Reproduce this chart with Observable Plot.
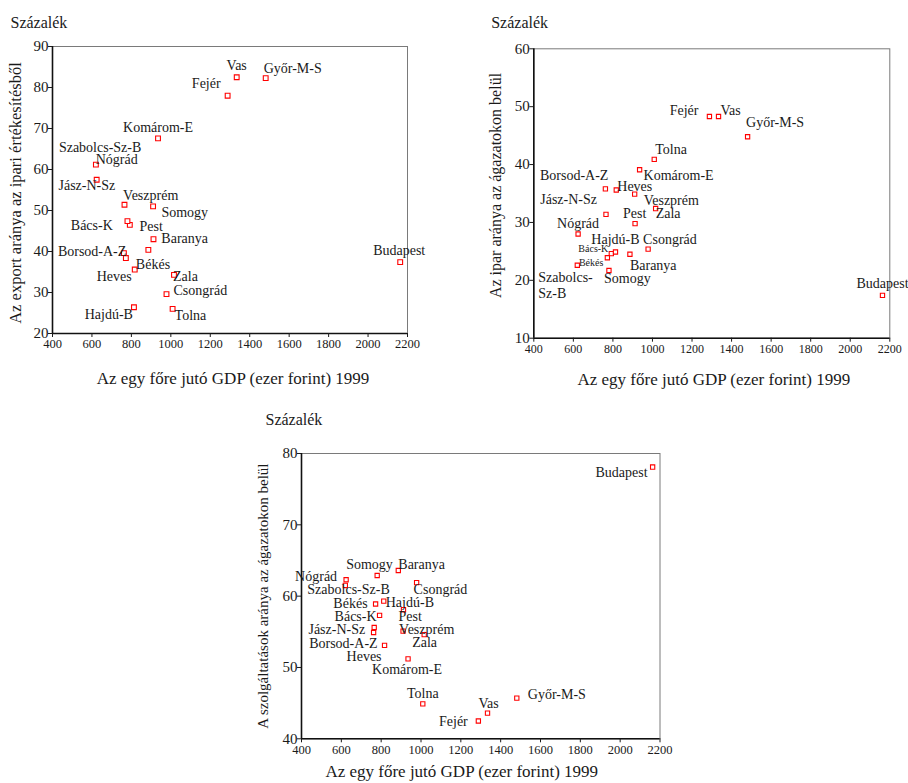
<!DOCTYPE html>
<html><head><meta charset="utf-8">
<script src="https://cdn.jsdelivr.net/npm/d3@7"></script>
<script src="https://cdn.jsdelivr.net/npm/@observablehq/plot@0.6"></script>
<style>
body{margin:0;background:#fff;}
#wrap{position:relative;width:908px;height:783px;overflow:hidden;font-family:"Liberation Serif",serif;}
#wrap svg, #wrap svg text{font-family:"Liberation Serif","Times New Roman",serif !important;font-weight:normal;}
.p{position:absolute;}
</style></head><body><div id="wrap"></div>
<script>
// ---- data ----
const counties = ["Budapest","Baranya","Bács-K","Békés","Borsod-A-Z","Csongrád","Fejér","Győr-M-S","Hajdú-B","Heves","Jász-N-Sz","Komárom-E","Nógrád","Pest","Somogy","Szabolcs-Sz-B","Tolna","Vas","Veszprém","Zala"];
const gdp =            [2163, 886, 792, 772, 762, 978, 1288, 1481, 813, 817, 765, 935, 624, 912, 780, 620, 1009, 1334, 910, 1016];
const exportShare =    [37.4, 40.4, 46.5, 38.4, 39.6, 29.6, 78.0, 82.3, 26.4, 35.6, 51.4, 67.6, 57.5, 43.0, 47.4, 61.2, 26.0, 82.5, 51.0, 34.3];
const industryShare =  [17.4, 24.5, 24.6, 23.9, 35.8, 25.4, 48.3, 44.8, 24.9, 35.6, 31.4, 39.1, 28.0, 29.8, 21.7, 22.6, 40.9, 48.3, 34.9, 32.4];
const servicesShare =  [78.1, 63.6, 57.3, 58.9, 54.9, 61.9, 42.5, 45.7, 59.3, 53.1, 55.6, 51.2, 62.3, 58.1, 62.9, 61.5, 44.9, 43.6, 55.1, 54.6];
const xTicks = [400, 600, 800, 1000, 1200, 1400, 1600, 1800, 2000, 2200];
const yTicks1 = [20, 30, 40, 50, 60, 70, 80, 90];
const yTicks2 = [10, 20, 30, 40, 50, 60];
const yTicks3 = [40, 50, 60, 70, 80];
const unitLabel = "Százalék";
const titleX = "Az egy főre jutó GDP (ezer forint) 1999";
const titleY1 = "Az export aránya az ipari értékesítésből";
const titleY2 = "Az ipar aránya az ágazatokon belül";
const titleY3 = "A szolgáltatások aránya az ágazatokon belül";

// ---- label layout (anchor, dx, dy, fontSize, text override) ----
const layout1 = {
  "Budapest":["middle",-1,-12],"Baranya":["start",13,-12],"Bács-K":["end",-17,0],"Békés":["start",10,6],
  "Borsod-A-Z":["start",-66,-2],"Csongrád":["start",7,-4],"Fejér":["end",-7,-13],"Győr-M-S":["start",-2,-10],
  "Hajdú-B":["end",-1,7],"Heves":["end",-3,6],"Jász-N-Sz":["start",-66,-19.5],"Komárom-E":["middle",0,-11],
  "Nógrád":["start",-1,-21],"Pest":["start",-14,-13],"Somogy":["start",34,-9.5],"Szabolcs-Sz-B":["start",-37,-18],
  "Tolna":["start",2,6],"Vas":["middle",0,-12],"Veszprém":["start",-30,-12],"Zala":["start",-1,1]
};
const layout2 = {
  "Budapest":["middle",0,-12.5],"Baranya":["start",0,11],"Bács-K":["end",-3,-5,10],"Békés":["end",-4,5,10],
  "Borsod-A-Z":["end",3,-14],"Csongrád":["start",-5,-10],"Fejér":["end",-11,-6.5],"Győr-M-S":["start",-1.5,-14.6],
  "Hajdú-B":["middle",0,-13.4],"Heves":["start",1,-4],"Jász-N-Sz":["end",-9,-15],"Komárom-E":["start",4,5],
  "Nógrád":["middle",0,-11],"Pest":["start",-12,-11],"Somogy":["start",-5,7],"Szabolcs-Sz-B":["start",-39,20,14,"Szabolcs-\nSz-B"],
  "Tolna":["start",1,-10.7],"Vas":["start",2,-6.5],"Veszprém":["start",9,5.5],"Zala":["start",0,4.5]
};
const layout3 = {
  "Budapest":["end",-5,5],"Baranya":["start",0,-7],"Bács-K":["end",-3,0],"Békés":["end",-8,-1],
  "Borsod-A-Z":["end",4,10],"Csongrád":["start",-3,6],"Fejér":["end",-10.6,0],"Győr-M-S":["start",11,-4],
  "Hajdú-B":["start",2,1],"Heves":["end",-3,10],"Jász-N-Sz":["end",-9,1],"Komárom-E":["start",-36,10],
  "Nógrád":["end",-9,-3.5],"Pest":["start",-5,6],"Somogy":["start",-31,-12],"Szabolcs-Sz-B":["start",-38,3],
  "Tolna":["middle",0,-11.5],"Vas":["middle",1,-10],"Veszprém":["start",-4,-2],"Zala":["start",-12,7]
};

const FONT = 'Liberation Serif';
const INK = "#1a1a1a";

function chart(vals, cfg) {
  const data = counties.map((c, i) => ({name: c, gdp: gdp[i], v: vals[i]}));
  const labelMarks = data.map(d => {
    const [anchor, dx, dy, fs, txt] = cfg.layout[d.name];
    return Plot.text([d], {
      x: "gdp", y: "v", text: () => txt || d.name,
      textAnchor: anchor, dx, dy, fontSize: fs || 14, fontFamily: FONT, lineAnchor: "middle", lineHeight: 1.15, fill: INK
    });
  });
  return Plot.plot({
    width: cfg.width, height: cfg.height,
    marginLeft: cfg.m[0], marginRight: cfg.m[1], marginTop: cfg.m[2], marginBottom: cfg.m[3],
    x: {domain: [400, 2200]},
    y: {domain: [cfg.yTicks[0], cfg.yTicks[cfg.yTicks.length - 1]]},
    style: {fontFamily: FONT, color: INK, background: "transparent", overflow: "visible"},
    marks: [
      Plot.frame({stroke: "#7a7a7a", strokeWidth: 1}),
      Plot.ruleX([400], {stroke: "#111", strokeWidth: 1.6}),
      Plot.ruleY([cfg.yTicks[0]], {stroke: "#111", strokeWidth: 1.6}),
      Plot.axisX({ticks: xTicks, tickSize: 4, tickPadding: 2, fontSize: cfg.xfs, fontFamily: FONT, label: null, tickFormat: d => String(d)}),
      Plot.axisY({ticks: cfg.yTicks, tickSize: 4, tickPadding: 0, fontSize: 15, fontFamily: FONT, label: null, tickFormat: d => String(d)}),
      Plot.dot(data, {x: "gdp", y: "v", symbol: "square", r: cfg.r, stroke: "#ff0000", strokeWidth: 1.1, fill: "white"}),
      ...labelMarks,
      Plot.text([unitLabel], {text: d => d, frameAnchor: "top-left", dx: cfg.unit[0], dy: cfg.unit[1], textAnchor: "start", lineAnchor: "middle", fontSize: 16, fontFamily: FONT, fill: INK}),
      Plot.text([cfg.yTitle], {text: d => d, frameAnchor: "left", rotate: -90, dx: cfg.yt[0], dy: cfg.yt[1], textAnchor: "middle", lineAnchor: "middle", fontSize: cfg.yt[2], fontFamily: FONT, fill: INK}),
      Plot.text([titleX], {text: d => d, frameAnchor: "bottom", dx: cfg.xt[0], dy: cfg.xt[1], textAnchor: "middle", lineAnchor: "middle", fontSize: 17, fontFamily: FONT, fill: INK})
    ]
  });
}

const wrap = document.getElementById("wrap");
function place(svg, left, top) {
  const d = document.createElement("div");
  d.className = "p"; d.style.left = left + "px"; d.style.top = top + "px";
  d.appendChild(svg); wrap.appendChild(d);
}

place(chart(exportShare, {
  width: 440, height: 395, m: [52, 33, 46, 62], yTicks: yTicks1, layout: layout1, r: 2.7, xfs: 12.5,
  unit: [-42, -23.5], yt: [-37, 3, 16.5], xt: [3, 45], yTitle: titleY1
}), 0, 0);

place(chart(industryShare, {
  width: 438, height: 395, m: [63.3, 18.7, 48.3, 57.3], yTicks: yTicks2, layout: layout2, r: 2.4, xfs: 12,
  unit: [-42.6, -25.8], yt: [-38, -8, 16], xt: [2, 41.3], yTitle: titleY2
}), 470, 0);

place(chart(servicesShare, {
  width: 440, height: 403, m: [61, 20.5, 73, 44.7], yTicks: yTicks3, layout: layout3, r: 2.4, xfs: 12.5,
  unit: [-36, -33.5], yt: [-38, 0, 15], xt: [-19, 32.7], yTitle: titleY3
}), 240, 380);
</script>
</body></html>
